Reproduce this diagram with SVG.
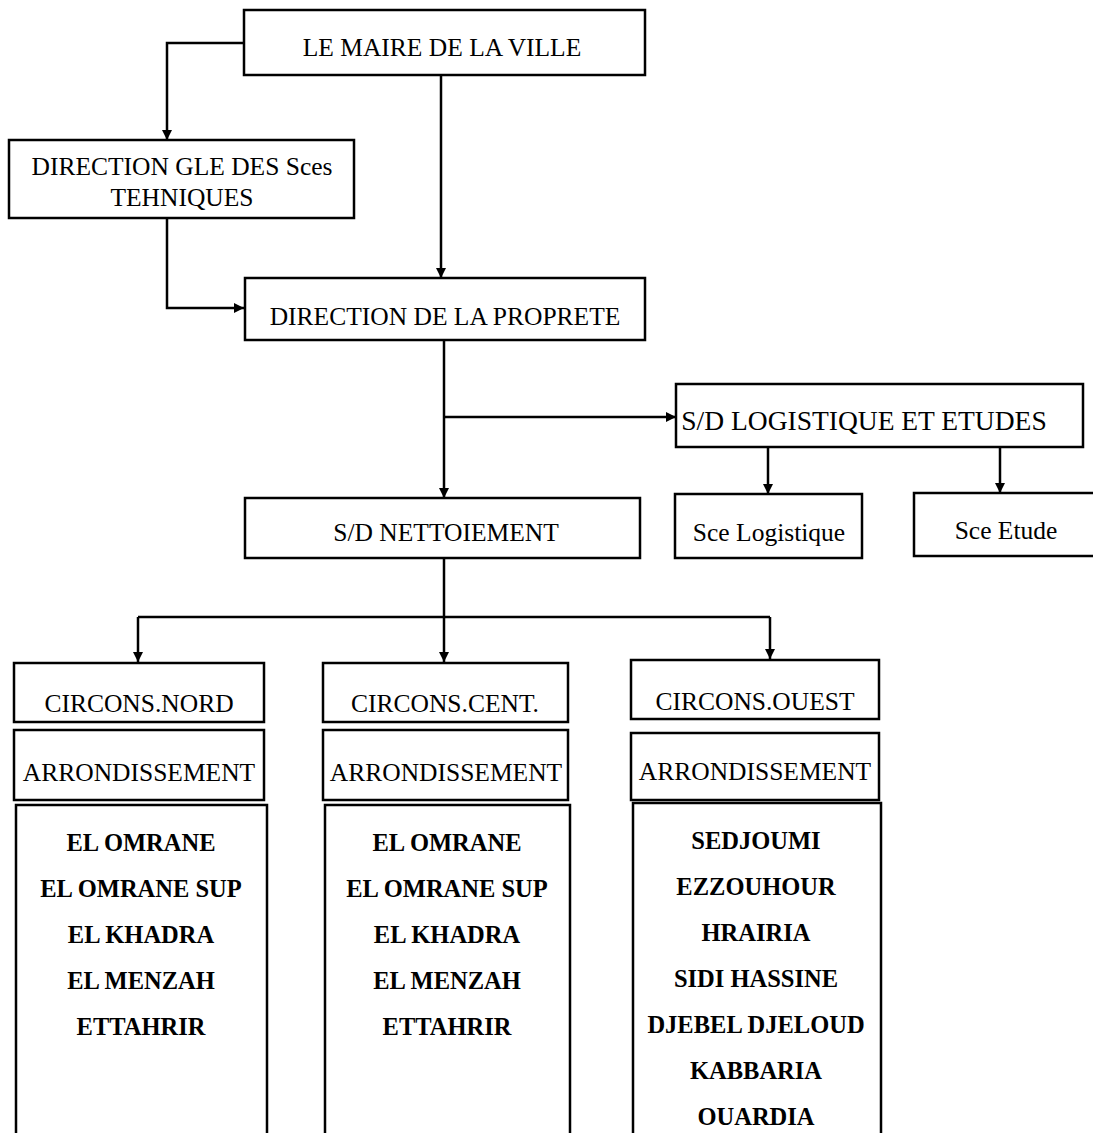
<svg xmlns="http://www.w3.org/2000/svg" width="1093" height="1133" viewBox="0 0 1093 1133">
<defs>
<marker id="arr" viewBox="0 0 10 10" refX="10" refY="5" markerWidth="10" markerHeight="10" markerUnits="userSpaceOnUse" orient="auto">
<path d="M0,0 L10,5 L0,10 z" fill="#000"/>
</marker>
<style>
.box{fill:#fff;stroke:#000;stroke-width:2.5}
.t{font-family:"Liberation Serif","Times New Roman",serif;font-size:25.5px;fill:#000;text-anchor:middle;dominant-baseline:central}
.b{font-weight:bold;font-size:24.5px}
.c{fill:none;stroke:#000;stroke-width:2.5}
</style>
</defs>
<rect width="1093" height="1133" fill="#fff"/>
<g id="connectors">
<path class="c" d="M244,43 H167 V140" marker-end="url(#arr)"/>
<path class="c" d="M167,218 V308 H244" marker-end="url(#arr)"/>
<path class="c" d="M441,75 V278" marker-end="url(#arr)"/>
<path class="c" d="M444,340 V498" marker-end="url(#arr)"/>
<path class="c" d="M444,417 H676" marker-end="url(#arr)"/>
<path class="c" d="M768,447 V494" marker-end="url(#arr)"/>
<path class="c" d="M1000,447 V493" marker-end="url(#arr)"/>
<path class="c" d="M444,558 V662" marker-end="url(#arr)"/>
<path class="c" d="M138,617 H770"/>
<path class="c" d="M138,617 V662" marker-end="url(#arr)"/>
<path class="c" d="M770,617 V659" marker-end="url(#arr)"/>
</g>
<g id="maire"><rect class="box" x="244" y="10" width="401" height="65"/><text class="t" x="442" y="47">LE MAIRE DE LA VILLE</text></g>
<g id="dgst"><rect class="box" x="9" y="140" width="345" height="78"/><text class="t" x="182" y="166">DIRECTION GLE DES Sces</text><text class="t" x="182" y="197">TEHNIQUES</text></g>
<g id="proprete"><rect class="box" x="245" y="278" width="400" height="62"/><text class="t" x="445" y="316">DIRECTION DE LA PROPRETE</text></g>
<g id="logistique-etudes"><rect class="box" x="676" y="384" width="407" height="63"/><text class="t" x="864" y="420" style="font-size:27.5px">S/D LOGISTIQUE ET ETUDES</text></g>
<g id="sce-logistique"><rect class="box" x="675" y="494" width="187" height="64"/><text class="t" x="769" y="532">Sce Logistique</text></g>
<g id="sce-etude"><path class="c" d="M1095,493 H914 V556 H1095"/><text class="t" x="1006" y="530">Sce Etude</text></g>
<g id="nettoiement"><rect class="box" x="245" y="498" width="395" height="60"/><text class="t" x="446" y="532">S/D NETTOIEMENT</text></g>
<g id="circ-nord">
<rect class="box" x="14" y="663" width="250" height="59"/><text class="t" x="139" y="703">CIRCONS.NORD</text>
<rect class="box" x="14" y="730" width="250" height="70"/><text class="t" x="139" y="772">ARRONDISSEMENT</text>
<path class="c" d="M16,1140 V805 H267 V1140"/>
<text class="t b" x="141" y="842">EL OMRANE</text>
<text class="t b" x="141" y="888">EL OMRANE SUP</text>
<text class="t b" x="141" y="934">EL KHADRA</text>
<text class="t b" x="141" y="980">EL MENZAH</text>
<text class="t b" x="141" y="1026">ETTAHRIR</text>
</g>
<g id="circ-cent">
<rect class="box" x="323" y="663" width="245" height="59"/><text class="t" x="445" y="703">CIRCONS.CENT.</text>
<rect class="box" x="323" y="730" width="245" height="70"/><text class="t" x="446" y="772">ARRONDISSEMENT</text>
<path class="c" d="M325,1140 V805 H570 V1140"/>
<text class="t b" x="447" y="842">EL OMRANE</text>
<text class="t b" x="447" y="888">EL OMRANE SUP</text>
<text class="t b" x="447" y="934">EL KHADRA</text>
<text class="t b" x="447" y="980">EL MENZAH</text>
<text class="t b" x="447" y="1026">ETTAHRIR</text>
</g>
<g id="circ-ouest">
<rect class="box" x="631" y="660" width="248" height="59"/><text class="t" x="755" y="701">CIRCONS.OUEST</text>
<rect class="box" x="631" y="733" width="248" height="67"/><text class="t" x="755" y="771">ARRONDISSEMENT</text>
<path class="c" d="M633,1140 V803 H881 V1140"/>
<text class="t b" x="756" y="840">SEDJOUMI</text>
<text class="t b" x="756" y="886">EZZOUHOUR</text>
<text class="t b" x="756" y="932">HRAIRIA</text>
<text class="t b" x="756" y="978">SIDI HASSINE</text>
<text class="t b" x="756" y="1024">DJEBEL DJELOUD</text>
<text class="t b" x="756" y="1070">KABBARIA</text>
<text class="t b" x="756" y="1116">OUARDIA</text>
</g>
</svg>
